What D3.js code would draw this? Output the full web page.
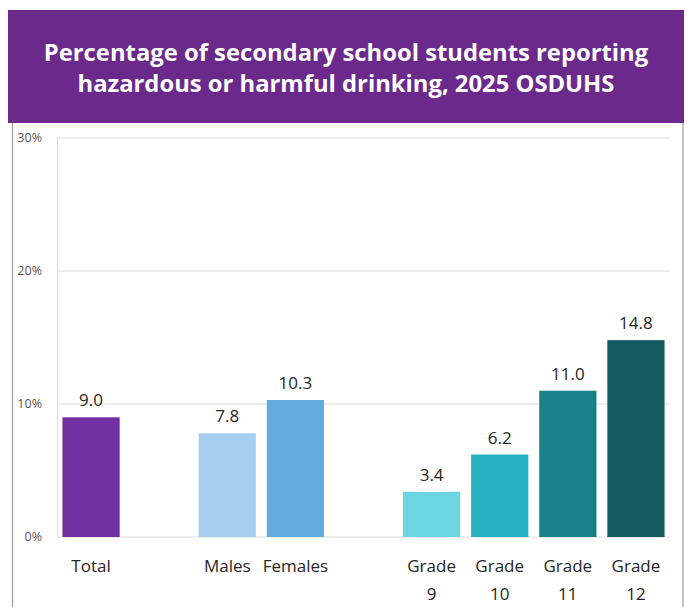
<!DOCTYPE html>
<html>
<head>
<meta charset="utf-8">
<script src="https://cdn.jsdelivr.net/npm/d3@7"></script>
<style>
  html, body { margin: 0; padding: 0; background: #fff; }
  svg { display: block; }
</style>
</head>
<body>
<svg id="chart" width="687" height="607"></svg>
<script>
const titleLines = ["Percentage of secondary school students reporting", "hazardous or harmful drinking, 2025 OSDUHS"];
const categories = ["Total", "Males", "Females", "Grade 9", "Grade 10", "Grade 11", "Grade 12"];
const labelLines = [["Total"], ["Males"], ["Females"], ["Grade", "9"], ["Grade", "10"], ["Grade", "11"], ["Grade", "12"]];
const values = [9.0, 7.8, 10.3, 3.4, 6.2, 11.0, 14.8];
const colors = ["#7030a0", "#a6cfee", "#62ace0", "#6cd5e2", "#24b2c2", "#1a818a", "#135a5f"];
const slots = ["Total", "gap1", "Males", "Females", "gap2", "Grade 9", "Grade 10", "Grade 11", "Grade 12"];
const yTicks = [0, 10, 20, 30];

const svg = d3.select("#chart");

// frame
svg.append("rect").attr("x", 12.5).attr("y", 118).attr("width", 670.5).attr("height", 500)
  .attr("fill", "#fff").attr("stroke", "#9a9a9a").attr("stroke-width", 1.2);

// banner
svg.append("rect").attr("x", 8).attr("y", 10).attr("width", 676).attr("height", 113).attr("fill", "#6b2a8b");
svg.append("text").attr("x", 346).attr("y", 61).attr("text-anchor", "middle")
  .attr("fill", "#fff").attr("font-family", "Open Sans").attr("font-weight", "bold").attr("font-size", 23.8)
  .selectAll("tspan").data(titleLines).join("tspan")
  .attr("x", 346).attr("dy", (d, i) => i === 0 ? 0 : 31).text(d => d);

const x = d3.scaleBand().domain(slots).range([57, 670]).paddingInner(0.16).paddingOuter(0.08);
const y = d3.scaleLinear().domain([0, 30]).range([537, 138]);

// gridlines
svg.append("g").selectAll("line").data(yTicks).join("line")
  .attr("x1", 57).attr("x2", 670).attr("y1", d => y(d)).attr("y2", d => y(d))
  .attr("stroke", "#dcdcdc").attr("stroke-width", 1);
svg.append("line").attr("x1", 57.5).attr("x2", 57.5).attr("y1", y(30)).attr("y2", y(0))
  .attr("stroke", "#dcdcdc");

// y tick labels
svg.append("g").selectAll("text").data(yTicks).join("text")
  .attr("x", 42).attr("y", d => y(d) + 4).attr("text-anchor", "end")
  .attr("font-family", "Open Sans").attr("font-size", 12.5).attr("fill", "#555")
  .text(d => d + "%");

const data = categories.map((c, i) => ({ c, v: values[i], col: colors[i], lines: labelLines[i] }));

svg.append("g").selectAll("rect").data(data).join("rect")
  .attr("x", d => x(d.c)).attr("width", x.bandwidth())
  .attr("y", d => y(d.v)).attr("height", d => y(0) - y(d.v))
  .attr("fill", d => d.col);

svg.append("g").selectAll("text").data(data).join("text")
  .attr("x", d => x(d.c) + x.bandwidth() / 2).attr("y", d => y(d.v) - 11)
  .attr("text-anchor", "middle").attr("font-family", "Open Sans").attr("font-size", 17).attr("fill", "#262626")
  .text(d => d.v.toFixed(1));

const lbl = svg.append("g").selectAll("text").data(data).join("text")
  .attr("text-anchor", "middle").attr("font-family", "Open Sans").attr("font-size", 17).attr("fill", "#262626")
  .attr("y", 572);
lbl.selectAll("tspan").data(d => d.lines.map(t => ({ t, cx: x(d.c) + x.bandwidth() / 2 }))).join("tspan")
  .attr("x", d => d.cx).attr("dy", (d, i) => i === 0 ? 0 : 28).text(d => d.t);
</script>
</body>
</html>
